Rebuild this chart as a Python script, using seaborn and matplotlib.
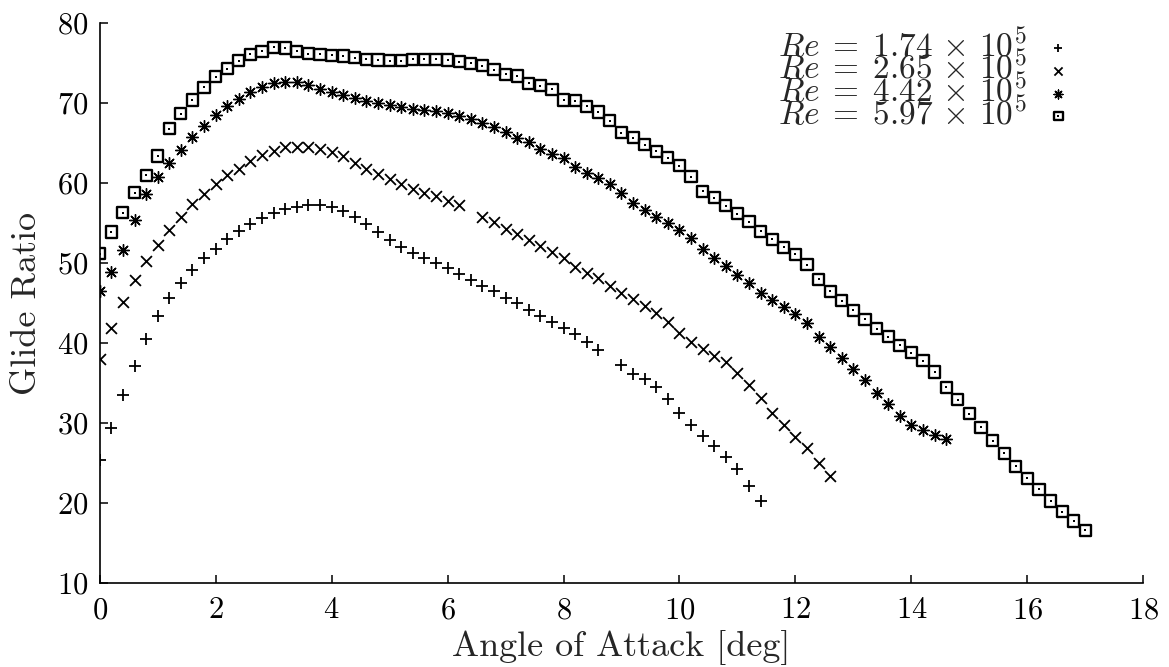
import matplotlib
matplotlib.use("Agg")
import matplotlib.pyplot as plt
import seaborn as sns
import pandas as pd

# ---------------- data ----------------
alpha_174 = [0.0, 0.2, 0.4, 0.6, 0.8, 1.0, 1.2, 1.4, 1.6, 1.8, 2.0, 2.2, 2.4, 2.6, 2.8,
             3.0, 3.2, 3.4, 3.6, 3.8, 4.0, 4.2, 4.4, 4.6, 4.8, 5.0, 5.2, 5.4, 5.6, 5.8,
             6.0, 6.2, 6.4, 6.6, 6.8, 7.0, 7.2, 7.4, 7.6, 7.8, 8.0, 8.2, 8.4, 8.6,
             9.0, 9.2, 9.4, 9.6, 9.8, 10.0, 10.2, 10.4, 10.6, 10.8, 11.0, 11.2, 11.4]
glide_174 = [25.4, 29.4, 33.5, 37.1, 40.5, 43.4, 45.6, 47.5, 49.2, 50.6, 51.8, 53.0, 54.0, 54.9, 55.6,
             56.3, 56.75, 57.0, 57.25, 57.25, 57.0, 56.5, 55.8, 54.9, 53.9, 52.9, 52.0, 51.3, 50.7, 50.0,
             49.4, 48.6, 47.95, 47.2, 46.5, 45.7, 45.0, 44.2, 43.4, 42.7, 41.9, 41.1, 40.1, 39.2,
             37.25, 36.2, 35.5, 34.5, 33.0, 31.3, 29.75, 28.4, 27.1, 25.8, 24.3, 22.1, 20.2]

alpha_265 = [0.0, 0.2, 0.4, 0.6, 0.8, 1.0, 1.2, 1.4, 1.6, 1.8, 2.0, 2.2, 2.4, 2.6, 2.8,
             3.0, 3.2, 3.4, 3.6, 3.8, 4.0, 4.2, 4.4, 4.6, 4.8, 5.0, 5.2, 5.4, 5.6, 5.8,
             6.0, 6.2, 6.6, 6.8, 7.0, 7.2, 7.4, 7.6, 7.8, 8.0, 8.2, 8.4, 8.6, 8.8,
             9.0, 9.2, 9.4, 9.6, 9.8, 10.0, 10.2, 10.4, 10.6, 10.8, 11.0, 11.2, 11.4, 11.6, 11.8,
             12.0, 12.2, 12.4, 12.6]
glide_265 = [38.0, 41.9, 45.2, 47.9, 50.25, 52.25, 54.2, 55.8, 57.4, 58.7, 59.9, 61.0, 61.8, 62.8, 63.5,
             64.0, 64.5, 64.5, 64.5, 64.3, 63.9, 63.4, 62.5, 61.75, 61.1, 60.5, 59.9, 59.3, 58.8, 58.4,
             57.8, 57.3, 55.8, 55.1, 54.3, 53.65, 52.95, 52.1, 51.35, 50.6, 49.55, 48.8, 48.1, 47.1,
             46.3, 45.5, 44.6, 43.8, 42.6, 41.3, 40.2, 39.25, 38.4, 37.6, 36.3, 34.75, 33.1, 31.3, 29.7,
             28.2, 26.9, 25.0, 23.4]

alpha_442 = [0.0, 0.2, 0.4, 0.6, 0.8, 1.0, 1.2, 1.4, 1.6, 1.8, 2.0, 2.2, 2.4, 2.6, 2.8,
             3.0, 3.2, 3.4, 3.6, 3.8, 4.0, 4.2, 4.4, 4.6, 4.8, 5.0, 5.2, 5.4, 5.6, 5.8,
             6.0, 6.2, 6.4, 6.6, 6.8, 7.0, 7.2, 7.4, 7.6, 7.8, 8.0, 8.2, 8.4, 8.6, 8.8,
             9.0, 9.2, 9.4, 9.6, 9.8, 10.0, 10.2, 10.4, 10.6, 10.8, 11.0, 11.2, 11.4, 11.6, 11.8,
             12.0, 12.2, 12.4, 12.6, 12.8, 13.0, 13.2, 13.4, 13.6, 13.8, 14.0, 14.2, 14.4, 14.6]
glide_442 = [46.5, 48.9, 51.6, 55.4, 58.6, 60.8, 62.5, 64.1, 65.8, 67.2, 68.5, 69.7, 70.5, 71.4, 72.0,
             72.5, 72.6, 72.6, 72.25, 71.8, 71.4, 71.0, 70.6, 70.3, 70.0, 69.75, 69.5, 69.3, 69.2, 69.0,
             68.8, 68.4, 68.0, 67.5, 67.0, 66.4, 65.6, 65.2, 64.3, 63.6, 63.1, 62.0, 61.3, 60.7, 59.9,
             58.8, 57.5, 56.7, 55.8, 55.0, 54.1, 53.2, 51.8, 50.7, 49.6, 48.5, 47.5, 46.3, 45.4, 44.5,
             43.6, 42.5, 40.8, 39.5, 38.1, 36.75, 35.4, 33.8, 32.4, 30.9, 29.75, 29.1, 28.5, 28.05]

alpha_597 = [0.0, 0.2, 0.4, 0.6, 0.8, 1.0, 1.2, 1.4, 1.6, 1.8, 2.0, 2.2, 2.4, 2.6, 2.8,
             3.0, 3.2, 3.4, 3.6, 3.8, 4.0, 4.2, 4.4, 4.6, 4.8, 5.0, 5.2, 5.4, 5.6, 5.8,
             6.0, 6.2, 6.4, 6.6, 6.8, 7.0, 7.2, 7.4, 7.6, 7.8, 8.0, 8.2, 8.4, 8.6, 8.8,
             9.0, 9.2, 9.4, 9.6, 9.8, 10.0, 10.2, 10.4, 10.6, 10.8, 11.0, 11.2, 11.4, 11.6, 11.8,
             12.0, 12.2, 12.4, 12.6, 12.8, 13.0, 13.2, 13.4, 13.6, 13.8, 14.0, 14.2, 14.4, 14.6, 14.8,
             15.0, 15.2, 15.4, 15.6, 15.8, 16.0, 16.2, 16.4, 16.6, 16.8, 17.0]
glide_597 = [51.2, 53.9, 56.3, 58.8, 61.0, 63.4, 66.8, 68.7, 70.4, 72.0, 73.3, 74.3, 75.3, 76.1, 76.5,
             77.0, 76.9, 76.5, 76.2, 76.1, 76.0, 75.9, 75.7, 75.5, 75.4, 75.3, 75.3, 75.5, 75.5, 75.5,
             75.4, 75.2, 75.0, 74.7, 74.2, 73.6, 73.4, 72.5, 72.2, 71.75, 70.4, 70.3, 69.6, 68.9, 67.8,
             66.3, 65.7, 64.8, 64.0, 63.2, 62.2, 60.8, 59.0, 58.2, 57.2, 56.2, 55.2, 54.0, 53.0, 52.0,
             51.1, 49.8, 48.0, 46.5, 45.3, 44.1, 43.0, 41.8, 40.8, 39.75, 38.8, 37.8, 36.4, 34.5, 32.9,
             31.2, 29.5, 27.8, 26.2, 24.6, 23.1, 21.7, 20.25, 18.9, 17.75, 16.6]

labels = [r"$Re \;=\; 1.74 \,\times\, 10^5$", r"$Re \;=\; 2.65 \,\times\, 10^5$",
          r"$Re \;=\; 4.42 \,\times\, 10^5$", r"$Re \;=\; 5.97 \,\times\, 10^5$"]
x_ticks = [0, 2, 4, 6, 8, 10, 12, 14, 16, 18]
y_ticks = [10, 20, 30, 40, 50, 60, 70, 80]

# ---------------- style ----------------
sns.set_style("ticks")
plt.rcParams["font.family"] = ["cmr10", "DejaVu Serif"]
plt.rcParams["mathtext.fontset"] = "cm"
plt.rcParams["axes.formatter.use_mathtext"] = True
plt.rcParams["axes.unicode_minus"] = False

fig = plt.figure(figsize=(11.69, 6.67), dpi=100)
ax = fig.add_axes([0.0853, 0.1259, 0.8927, 0.8392])

S = 72
LW = 1.3
d1 = pd.DataFrame({"a": alpha_174, "g": glide_174})
d2 = pd.DataFrame({"a": alpha_265, "g": glide_265})
d3 = pd.DataFrame({"a": alpha_442, "g": glide_442})
d4 = pd.DataFrame({"a": alpha_597, "g": glide_597})

sns.scatterplot(data=d1, x="a", y="g", marker="+", s=S, color="black", linewidth=LW, ax=ax)
sns.scatterplot(data=d2, x="a", y="g", marker="x", s=S * 0.85, color="black", linewidth=LW, ax=ax)
sns.scatterplot(data=d3, x="a", y="g", marker=(8, 2, 0), s=S * 1.0, color="black", linewidth=1.0, ax=ax)
sns.scatterplot(data=d4, x="a", y="g", marker="s", s=S * 0.9, facecolor="none", edgecolor="black",
                linewidth=LW * 1.3, ax=ax)
sns.scatterplot(data=d4, x="a", y="g", marker="s", s=2.5, color="black", linewidth=0, ax=ax)

colls = ax.collections
handles = [colls[0], colls[1], colls[2], (colls[3], colls[4])]
leg = ax.legend(handles, labels, loc="upper right", bbox_to_anchor=(1075 / 1169, 1 - 28 / 667),
                bbox_transform=fig.transFigure, frameon=False, markerfirst=False, fontsize=24,
                labelspacing=-0.38, handlelength=1.0, handletextpad=0.45, borderpad=0, borderaxespad=0,
                markerscale=0.75, scatterpoints=1)

ax.set_xlim(0, 18)
ax.set_ylim(10, 80)
ax.set_xticks(x_ticks)
ax.set_yticks(y_ticks)
ax.tick_params(direction="in", length=6, width=1.1, labelsize=22, pad=8, colors="black")
ax.tick_params(axis="x", pad=10)
for side in ["top", "right"]:
    ax.spines[side].set_visible(False)
for side in ["left", "bottom"]:
    ax.spines[side].set_linewidth(1.2)
    ax.spines[side].set_color("black")
ax.set_xlabel("Angle of Attack [deg]", fontsize=26, labelpad=4)
ax.set_ylabel("Glide Ratio", fontsize=26, labelpad=10)

fig.savefig("out.png", dpi=100)
